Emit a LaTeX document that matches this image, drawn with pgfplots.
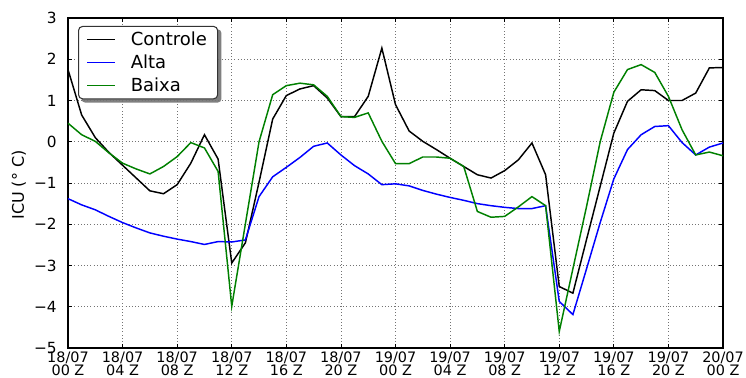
\documentclass[border=0pt]{standalone}
\usepackage{fontspec}
\setmainfont{DejaVu Sans}
\usepackage{pgfplots}
\pgfplotsset{compat=1.18}
\pgfdeclarelayer{background}
\pgfsetlayers{background,main}
\pgfplotstableread{
h ctrl alta baixa
0 1.75 -1.38 0.45
1 0.65 -1.53 0.17
2 0.10 -1.65 0.01
3 -0.26 -1.81 -0.27
4 -0.57 -1.96 -0.52
5 -0.88 -2.09 -0.66
6 -1.19 -2.21 -0.78
7 -1.26 -2.29 -0.60
8 -1.04 -2.36 -0.36
9 -0.52 -2.42 -0.02
10 0.17 -2.49 -0.15
11 -0.42 -2.42 -0.72
12 -2.94 -2.43 -3.99
13 -2.45 -2.38 -1.99
14 -0.98 -1.33 0.00
15 0.55 -0.85 1.14
16 1.12 -0.62 1.36
17 1.28 -0.38 1.42
18 1.36 -0.11 1.38
19 1.06 -0.03 1.10
20 0.61 -0.32 0.61
21 0.61 -0.58 0.59
22 1.10 -0.78 0.70
23 2.27 -1.04 0.01
24 0.90 -1.02 -0.53
25 0.26 -1.07 -0.53
26 0.01 -1.18 -0.37
27 -0.19 -1.27 -0.37
28 -0.40 -1.35 -0.40
29 -0.60 -1.42 -0.60
30 -0.80 -1.50 -1.69
31 -0.88 -1.55 -1.83
32 -0.70 -1.59 -1.81
33 -0.44 -1.62 -1.58
34 -0.03 -1.62 -1.33
35 -0.80 -1.55 -1.55
36 -3.51 -3.87 -4.60
37 -3.67 -4.19 -3.08
38 -2.37 -3.08 -1.57
39 -1.08 -1.96 0.00
40 0.21 -0.90 1.20
41 0.98 -0.19 1.75
42 1.26 0.17 1.87
43 1.24 0.37 1.68
44 1.00 0.39 1.10
45 1.00 -0.02 0.29
46 1.18 -0.32 -0.32
47 1.79 -0.13 -0.25
48 1.80 -0.03 -0.34
}\datatable
\definecolor{mplgreen}{rgb}{0,0.5,0}
\begin{document}
\begin{tikzpicture}
\useasboundingbox (-51pt,-22.5pt) rectangle (508.5pt,261pt);
\begin{axis}[
  at={(0,0)}, anchor=south west,
  scale only axis, width=491.25pt, height=247.5pt,
  xmin=0, xmax=48, ymin=-5, ymax=3,
  xtick={0,4,...,48},
  xticklabels={{18/07\\00 Z},{18/07\\04 Z},{18/07\\08 Z},{18/07\\12 Z},{18/07\\16 Z},{18/07\\20 Z},{19/07\\00 Z},{19/07\\04 Z},{19/07\\08 Z},{19/07\\12 Z},{19/07\\16 Z},{19/07\\20 Z},{20/07\\00 Z}},
  xticklabel style={align=center, font=\fontsize{10.8}{9.9}\selectfont, inner sep=0.5pt, yshift=-2.3pt},
  ytick={-5,-4,-3,-2,-1,0,1,2,3},
  yticklabels={−5,−4,−3,−2,−1,0,1,2,3},
  yticklabel style={font=\fontsize{11.5}{12}\selectfont, xshift=-5pt, text depth=0pt},
  grid=major,
  major grid style={dotted, black!55, line width=0.6pt},
  tick align=inside, major tick length=3pt,
  tick style={black, line width=0.6pt},
  axis line style={line width=0.8pt},
  ylabel={ICU (° C)},
  ylabel style={at={(axis description cs:-0.075,0.494)}, anchor=center, font=\fontsize{12}{14}\selectfont},
  legend cell align=left,
  legend style={name=leg, at={(axis description cs:0.0153,0.976)}, anchor=north west,
    draw=black!80, line width=0.8pt, rounded corners=3pt, fill=white,
    font=\fontsize{13.5}{16}\selectfont, row sep=1.5pt,
    inner xsep=6pt, inner ysep=2pt,
    /tikz/every odd column/.append style={column sep=9pt}},
  legend image code/.code={\draw[#1, line width=1.2pt, rounded corners=0pt] (0pt,0pt) -- (21pt,0pt);},
  every axis plot/.append style={line width=1.1pt},
]
\addplot[black] table[x=h, y=ctrl] {\datatable};
\addlegendentry{Controle}
\addplot[blue] table[x=h, y=alta] {\datatable};
\addlegendentry{Alta}
\addplot[mplgreen] table[x=h, y=baixa] {\datatable};
\addlegendentry{Baixa}
\end{axis}
\begin{pgfonlayer}{background}
\fill[black!50, rounded corners=3pt] ([shift={(2.5pt,-2.5pt)}]leg.south west) rectangle ([shift={(2.5pt,-2.5pt)}]leg.north east);
\end{pgfonlayer}
\end{tikzpicture}
\end{document}
